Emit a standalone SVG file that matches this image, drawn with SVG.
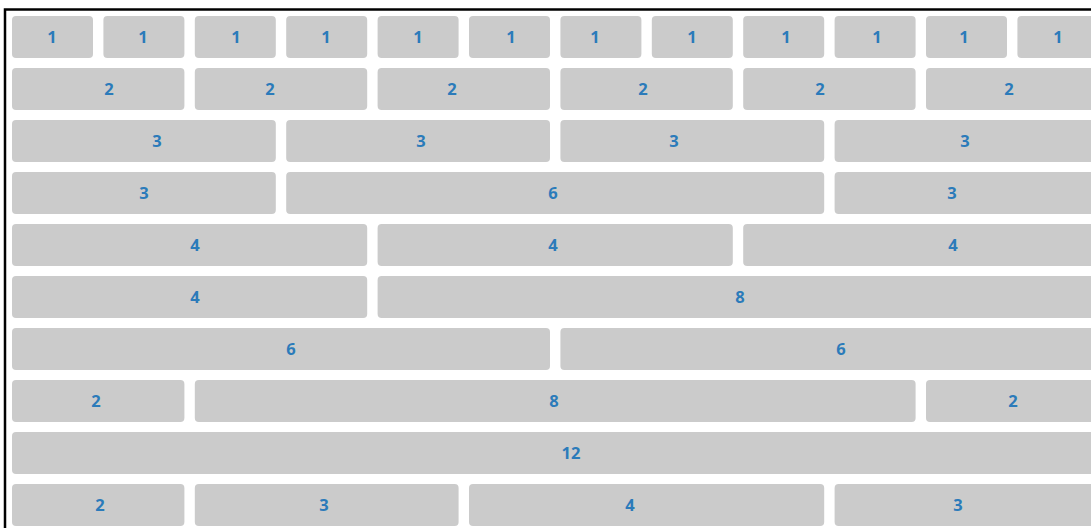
<svg xmlns="http://www.w3.org/2000/svg" width="1091" height="528" viewBox="0 0 1091 528">
<style>
.c{fill:#cbcbcb}
.t{font-family:"Open Sans","Liberation Sans",sans-serif;font-weight:700;font-size:16.5px;fill:#2b7bba;text-anchor:middle}
</style>
<rect x="0" y="0" width="1091" height="528" fill="#ffffff"/>
<rect id="frame" x="5" y="9.5" width="1120" height="560" fill="none" stroke="#000" stroke-width="2.5"/>
<g id="row1">
<g id="r1c1"><rect class="c" x="12" y="16" width="81" height="42" rx="4"/><text class="t" x="52" y="43">1</text></g>
<g id="r1c2"><rect class="c" x="103.4" y="16" width="81" height="42" rx="4"/><text class="t" x="143" y="43">1</text></g>
<g id="r1c3"><rect class="c" x="194.8" y="16" width="81" height="42" rx="4"/><text class="t" x="236" y="43">1</text></g>
<g id="r1c4"><rect class="c" x="286.2" y="16" width="81" height="42" rx="4"/><text class="t" x="326" y="43">1</text></g>
<g id="r1c5"><rect class="c" x="377.6" y="16" width="81" height="42" rx="4"/><text class="t" x="418" y="43">1</text></g>
<g id="r1c6"><rect class="c" x="469" y="16" width="81" height="42" rx="4"/><text class="t" x="511" y="43">1</text></g>
<g id="r1c7"><rect class="c" x="560.4" y="16" width="81" height="42" rx="4"/><text class="t" x="595" y="43">1</text></g>
<g id="r1c8"><rect class="c" x="651.8" y="16" width="81" height="42" rx="4"/><text class="t" x="692" y="43">1</text></g>
<g id="r1c9"><rect class="c" x="743.2" y="16" width="81" height="42" rx="4"/><text class="t" x="786" y="43">1</text></g>
<g id="r1c10"><rect class="c" x="834.6" y="16" width="81" height="42" rx="4"/><text class="t" x="877" y="43">1</text></g>
<g id="r1c11"><rect class="c" x="926" y="16" width="81" height="42" rx="4"/><text class="t" x="964" y="43">1</text></g>
<g id="r1c12"><rect class="c" x="1017.4" y="16" width="81" height="42" rx="4"/><text class="t" x="1058" y="43">1</text></g>
</g>
<g id="row2">
<g id="r2c1"><rect class="c" x="12" y="68" width="172.4" height="42" rx="4"/><text class="t" x="109" y="95">2</text></g>
<g id="r2c2"><rect class="c" x="194.8" y="68" width="172.4" height="42" rx="4"/><text class="t" x="270" y="95">2</text></g>
<g id="r2c3"><rect class="c" x="377.6" y="68" width="172.4" height="42" rx="4"/><text class="t" x="452" y="95">2</text></g>
<g id="r2c4"><rect class="c" x="560.4" y="68" width="172.4" height="42" rx="4"/><text class="t" x="643" y="95">2</text></g>
<g id="r2c5"><rect class="c" x="743.2" y="68" width="172.4" height="42" rx="4"/><text class="t" x="820" y="95">2</text></g>
<g id="r2c6"><rect class="c" x="926" y="68" width="172.4" height="42" rx="4"/><text class="t" x="1009" y="95">2</text></g>
</g>
<g id="row3">
<g id="r3c1"><rect class="c" x="12" y="120" width="263.8" height="42" rx="4"/><text class="t" x="157" y="147">3</text></g>
<g id="r3c2"><rect class="c" x="286.2" y="120" width="263.8" height="42" rx="4"/><text class="t" x="421" y="147">3</text></g>
<g id="r3c3"><rect class="c" x="560.4" y="120" width="263.8" height="42" rx="4"/><text class="t" x="674" y="147">3</text></g>
<g id="r3c4"><rect class="c" x="834.6" y="120" width="263.8" height="42" rx="4"/><text class="t" x="965" y="147">3</text></g>
</g>
<g id="row4">
<g id="r4c1"><rect class="c" x="12" y="172" width="263.8" height="42" rx="4"/><text class="t" x="144" y="199">3</text></g>
<g id="r4c2"><rect class="c" x="286.2" y="172" width="538" height="42" rx="4"/><text class="t" x="553" y="199">6</text></g>
<g id="r4c3"><rect class="c" x="834.6" y="172" width="263.8" height="42" rx="4"/><text class="t" x="952" y="199">3</text></g>
</g>
<g id="row5">
<g id="r5c1"><rect class="c" x="12" y="224" width="355.2" height="42" rx="4"/><text class="t" x="195" y="251">4</text></g>
<g id="r5c2"><rect class="c" x="377.6" y="224" width="355.2" height="42" rx="4"/><text class="t" x="553" y="251">4</text></g>
<g id="r5c3"><rect class="c" x="743.2" y="224" width="355.2" height="42" rx="4"/><text class="t" x="953" y="251">4</text></g>
</g>
<g id="row6">
<g id="r6c1"><rect class="c" x="12" y="276" width="355.2" height="42" rx="4"/><text class="t" x="195" y="303">4</text></g>
<g id="r6c2"><rect class="c" x="377.6" y="276" width="720.8" height="42" rx="4"/><text class="t" x="740" y="303">8</text></g>
</g>
<g id="row7">
<g id="r7c1"><rect class="c" x="12" y="328" width="538" height="42" rx="4"/><text class="t" x="291" y="355">6</text></g>
<g id="r7c2"><rect class="c" x="560.4" y="328" width="538" height="42" rx="4"/><text class="t" x="841" y="355">6</text></g>
</g>
<g id="row8">
<g id="r8c1"><rect class="c" x="12" y="380" width="172.4" height="42" rx="4"/><text class="t" x="96" y="407">2</text></g>
<g id="r8c2"><rect class="c" x="194.8" y="380" width="720.8" height="42" rx="4"/><text class="t" x="554" y="407">8</text></g>
<g id="r8c3"><rect class="c" x="926" y="380" width="172.4" height="42" rx="4"/><text class="t" x="1013" y="407">2</text></g>
</g>
<g id="row9">
<g id="r9c1"><rect class="c" x="12" y="432" width="1086.4" height="42" rx="4"/><text class="t" x="571" y="459">12</text></g>
</g>
<g id="row10">
<g id="r10c1"><rect class="c" x="12" y="484" width="172.4" height="42" rx="4"/><text class="t" x="100" y="511">2</text></g>
<g id="r10c2"><rect class="c" x="194.8" y="484" width="263.8" height="42" rx="4"/><text class="t" x="324" y="511">3</text></g>
<g id="r10c3"><rect class="c" x="469" y="484" width="355.2" height="42" rx="4"/><text class="t" x="630" y="511">4</text></g>
<g id="r10c4"><rect class="c" x="834.6" y="484" width="263.8" height="42" rx="4"/><text class="t" x="958" y="511">3</text></g>
</g>
<g id="connectors"/>
</svg>
